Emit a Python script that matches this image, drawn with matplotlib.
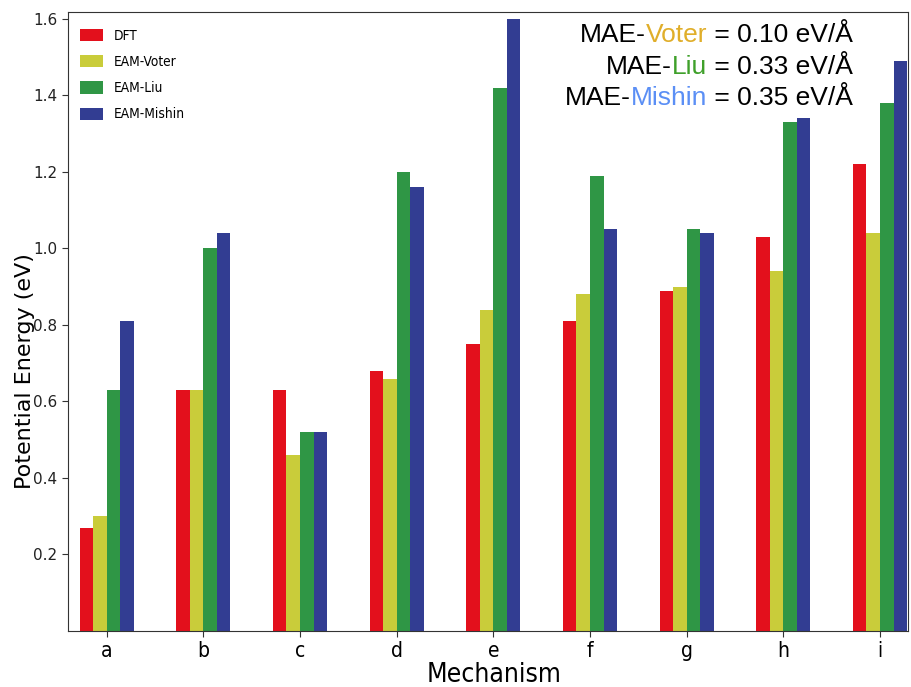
import matplotlib
matplotlib.use("Agg")
import matplotlib.pyplot as plt
import numpy as np

mechanisms = ["a", "b", "c", "d", "e", "f", "g", "h", "i"]
series_names = ["DFT", "EAM-Voter", "EAM-Liu", "EAM-Mishin"]
dft = [0.27, 0.63, 0.63, 0.68, 0.75, 0.81, 0.89, 1.03, 1.22]
voter = [0.30, 0.63, 0.46, 0.66, 0.84, 0.88, 0.90, 0.94, 1.04]
liu = [0.63, 1.00, 0.52, 1.20, 1.42, 1.19, 1.05, 1.33, 1.38]
mishin = [0.81, 1.04, 0.52, 1.16, 1.60, 1.05, 1.04, 1.34, 1.49]
colors = ["#e3101c", "#c9cc3a", "#2f9645", "#323d92"]
yticks = [0.2, 0.4, 0.6, 0.8, 1.0, 1.2, 1.4, 1.6]

fig = plt.figure(figsize=(9.11, 6.87), dpi=100)
ax = fig.add_axes([68/911, 56/687, 840/911, 619/687])

x = np.arange(len(mechanisms))
w = 0.14
for k, (vals, name, c) in enumerate(zip([dft, voter, liu, mishin], series_names, colors)):
    ax.bar(x + (k - 1.5) * w, vals, width=w, color=c, label=name, edgecolor="none")

ax.set_xlim(-0.4, 8.29)
ax.set_ylim(0, 1.618)
ax.set_yticks(yticks)
ax.set_yticklabels([f"{v:.1f}" for v in yticks], fontsize=11, color="#222222")
ax.set_xticks(x)
ax.set_xticklabels(mechanisms, fontsize=15, family="DejaVu Sans", fontstretch="condensed")
ax.tick_params(axis="both", length=4, color="#333333")
for s in ax.spines.values():
    s.set_color("#333333")

ax.set_ylabel("Potential Energy (eV)", fontsize=16)
ax.yaxis.set_label_coords(-0.039, 0.42)
ax.set_xlabel("Mechanism", fontsize=19, family="DejaVu Sans", fontstretch="condensed")
ax.xaxis.set_label_coords(0.507, -0.05)

leg = ax.legend(loc="upper left", frameon=False, prop={"family": "DejaVu Sans", "stretch": "condensed", "size": 9.8},
                handlelength=1.7, handleheight=1.0, labelspacing=0.9, handletextpad=0.8,
                borderaxespad=0.0, bbox_to_anchor=(0.008, 0.982))

tx = 0.9345
yl = [0.963, 0.911, 0.861]
fs = 19
parts = [("MAE-", "Voter", " = 0.10 eV/Å", "#e0ae2a"),
         ("MAE-", "Liu", " = 0.33 eV/Å", "#3fa02a"),
         ("MAE-", "Mishin", " = 0.35 eV/Å", "#5b8ff5")]
for (a, b, cc, col), yy in zip(parts, yl):
    t3 = ax.text(tx, yy, cc, transform=ax.transAxes, ha="right", va="center",
                 fontsize=fs, family="Liberation Sans", color="black")
    fig.canvas.draw()
    bb = t3.get_window_extent().transformed(ax.transAxes.inverted())
    t2 = ax.text(bb.x0, yy, b, transform=ax.transAxes, ha="right", va="center",
                 fontsize=fs, family="Liberation Sans", color=col)
    fig.canvas.draw()
    bb2 = t2.get_window_extent().transformed(ax.transAxes.inverted())
    ax.text(bb2.x0, yy, a, transform=ax.transAxes, ha="right", va="center",
            fontsize=fs, family="Liberation Sans", color="black")

fig.savefig("out.png", dpi=100)
